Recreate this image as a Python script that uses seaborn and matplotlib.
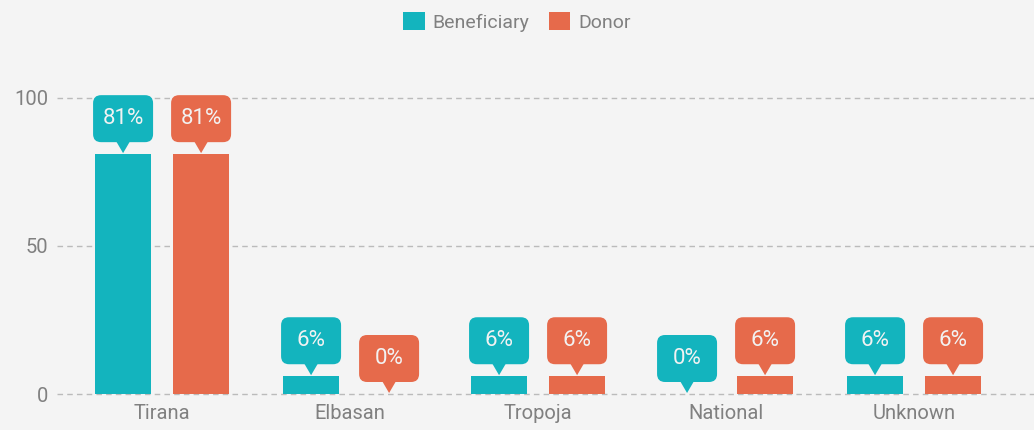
import matplotlib
matplotlib.use("Agg")
import matplotlib.pyplot as plt
import matplotlib.transforms as mtransforms
from matplotlib.patches import FancyBboxPatch, Polygon
import pandas as pd
import seaborn as sns

regions = ["Tirana", "Elbasan", "Tropoja", "National", "Unknown"]
beneficiary = [81, 6, 6, 0, 6]
donor = [81, 0, 6, 6, 6]
series_names = ["Beneficiary", "Donor"]
y_ticks = [0, 50, 100]

teal = "#13B4BE"
orange = "#E66A4B"
grey_text = "#808080"
bg = "#F4F4F4"

df = pd.DataFrame({
    "region": regions * 2,
    "share": beneficiary + donor,
    "type": [series_names[0]] * len(regions) + [series_names[1]] * len(regions),
})

sns.set_style("white")
plt.rcParams["font.family"] = ["Roboto", "DejaVu Sans"]

fig = plt.figure(figsize=(10.34, 4.3), dpi=100, facecolor=bg)
ax = fig.add_axes([57 / 1034, 36 / 430, 1 - 57 / 1034, (394 - 60) / 430])
ax.set_facecolor(bg)

sns.barplot(data=df, x="region", y="share", hue="type", palette=[teal, orange],
            width=0.83, gap=0.28, saturation=1, linewidth=0, ax=ax)

ax.set_xlim(-0.559, 4.638)
ax.set_ylim(0, 112.8)
ax.set_yticks(y_ticks)
ax.set_xlabel("")
ax.set_ylabel("")
for s in ax.spines.values():
    s.set_visible(False)
ax.yaxis.grid(True, linestyle=(0, (4, 3)), color="#BBBBBB", lw=1)
for gl in ax.get_ygridlines():
    gl.set_clip_on(False)
ax.set_axisbelow(True)
ax.tick_params(axis="y", length=0, pad=6, labelsize=14.5, labelcolor=grey_text)
ax.tick_params(axis="x", length=0, pad=7, labelsize=14.5, labelcolor=grey_text)

# callout labels (sizes in pixels, anchored at bar top)
bw, bh, gap_px = 60, 47, 12
for cont, col in zip(ax.containers, [teal, orange]):
    for bar in cont:
        x = bar.get_x() + bar.get_width() / 2
        v = bar.get_height()
        trans = mtransforms.Affine2D() + mtransforms.ScaledTranslation(x, v, ax.transData)
        box = FancyBboxPatch((-bw / 2, gap_px), bw, bh,
                             boxstyle="round,pad=0,rounding_size=8",
                             fc=col, ec="none", transform=trans, clip_on=False, zorder=4)
        ax.add_patch(box)
        tri = Polygon([(-7, gap_px + 1), (7, gap_px + 1), (0, 1)], closed=True,
                      fc=col, ec="none", transform=trans, clip_on=False, zorder=4)
        ax.add_patch(tri)
        ax.text(0, gap_px + bh / 2, f"{v:.0f}%", transform=trans, ha="center",
                va="center", color="#F2F2F2", fontsize=16, zorder=5)

sns.move_legend(ax, "upper center", bbox_to_anchor=(0.5, 1.0), bbox_transform=fig.transFigure,
                ncol=2, frameon=False, title=None, fontsize=14, handlelength=1.1,
                handleheight=1.1, handletextpad=0.4, columnspacing=1.0, borderaxespad=0.2)
for t in ax.get_legend().get_texts():
    t.set_color(grey_text)

fig.savefig("out.png", dpi=100, facecolor=bg)
